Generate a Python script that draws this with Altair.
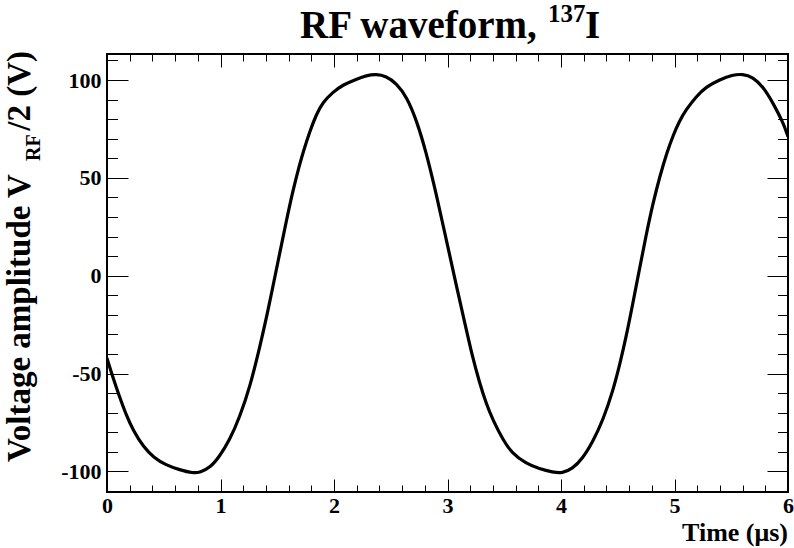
import altair as alt
import pandas as pd

# ---- data ----
time_us = [0.00, 0.05, 0.11, 0.17, 0.23, 0.32, 0.41, 0.52, 0.64, 0.76, 0.82, 0.91, 0.99,
           1.08, 1.17, 1.26, 1.35, 1.41, 1.46, 1.52, 1.58, 1.64, 1.70, 1.73, 1.785, 1.845,
           1.90, 1.99, 2.08, 2.20, 2.285, 2.37, 2.46, 2.55, 2.64, 2.73, 2.81, 2.90, 2.99,
           3.08, 3.16, 3.22, 3.28, 3.34, 3.40, 3.49, 3.57, 3.69, 3.81, 3.93, 4.01, 4.10,
           4.19, 4.28, 4.37, 4.46, 4.52, 4.574, 4.63, 4.69, 4.75, 4.81, 4.87, 4.93, 4.99,
           5.04, 5.10, 5.19, 5.28, 5.40, 5.51, 5.60, 5.69, 5.78, 5.87, 5.96, 6.00]
voltage = [-42.2, -51.6, -61.8, -71.2, -78.9, -87.4, -92.8, -96.8, -99.2, -100.9, -100.5, -98.0, -92.5,
           -84.0, -72.1, -56.7, -35.5, -20.0, -6.0, 11.0, 28.0, 44.0, 57.5, 63.5, 73.5, 82.5,
           88.5, 93.8, 97.6, 100.5, 102.3, 103.0, 102.0, 98.3, 91.5, 79.0, 63.5, 42.1, 18.2,
           -5.6, -26.1, -41.4, -54.2, -65.2, -73.8, -84.0, -90.8, -95.9, -98.7, -100.4, -100.9, -98.7,
           -93.4, -84.8, -73.8, -58.4, -44.8, -31.2, -15.0, 3.0, 20.8, 37.0, 50.6, 62.5, 72.0,
           78.7, 84.7, 91.5, 96.6, 100.2, 102.6, 103.1, 101.6, 96.6, 88.1, 77.9, 71.0]

x_major = [0, 1, 2, 3, 4, 5, 6]
x_minor = [0.2, 0.4, 0.6, 0.8, 1.2, 1.4, 1.6, 1.8, 2.2, 2.4, 2.6, 2.8, 3.2, 3.4, 3.6, 3.8,
           4.2, 4.4, 4.6, 4.8, 5.2, 5.4, 5.6, 5.8]
y_major = [-100, -50, 0, 50, 100]
y_minor = [-110, -90, -80, -70, -60, -40, -30, -20, -10, 10, 20, 30, 40, 60, 70, 80, 90, 110]

title_main = ["RF waveform,"]
title_sup = ["137"]
title_end = ["I"]
x_title = ["Time (\u03bcs)"]
y_title_main = ["Voltage amplitude V"]
y_title_sub = ["RF"]
y_title_end = ["/2 (V)"]

df = pd.DataFrame({"t": time_us, "v": voltage})

W, H = 681, 438
FONT = "Liberation Serif"
xs = alt.Scale(domain=[0, 6], nice=False, zero=False)
ys = alt.Scale(domain=[-110.5, 113.3], nice=False, zero=False)


def ax(orient, values, size, labels):
    kw = dict(orient=orient, values=values, tickSize=size, offset=-size, domain=False,
              grid=False, title=None, tickColor="black", tickWidth=1, labels=labels)
    if labels:
        kw.update(labelFont=FONT, labelFontWeight="bold", labelFontSize=22,
                  labelColor="black", labelFlush=False, labelOverlap=False,
                  labelExpr="toString(datum.value)",
                  labelPadding=3 if orient in ("bottom", "top") else 6)
    return alt.Axis(**kw)


def layer(xa, ya, visible=False):
    base = alt.Chart(df)
    if visible:
        m = base.mark_line(color="black", strokeWidth=3.2, interpolate="basis", clip=True)
    else:
        m = base.mark_line(opacity=0)
    return m.encode(x=alt.X("t:Q", scale=xs, axis=xa),
                    y=alt.Y("v:Q", scale=ys, axis=ya))


l1 = layer(ax("bottom", x_major, 13, True), ax("left", y_major, 21, True), visible=True)
l2 = layer(ax("bottom", x_minor, 7, False), ax("left", y_minor, 10.5, False))
l3 = layer(ax("top", x_major, 13, False), ax("right", y_major, 21, False))
l4 = layer(ax("top", x_minor, 7, False), ax("right", y_minor, 10.5, False))


def txt(values, x, y, size, align="left", angle=0):
    d = pd.DataFrame({"s": values})
    kw = dict(font=FONT, fontWeight="bold", fontSize=size, align=align,
              baseline="alphabetic", color="black")
    if angle:
        kw["angle"] = angle
    return alt.Chart(d).mark_text(**kw).encode(text="s:N", x=alt.value(x), y=alt.value(y))


texts = [
    txt(title_main, 193, -16, 39),
    txt(title_sup, 441, -32, 25),
    txt(title_end, 478, -16, 39),
    txt(x_title, 681, 487, 26, align="right"),
    txt(y_title_main, -77, 408, 33, angle=270),
    txt(y_title_sub, -67, 107, 20, angle=270),
    txt(y_title_end, -77, -3, 33, align="right", angle=270),
]

chart = alt.layer(l1, l2, l3, l4, *texts).resolve_axis(
    x="independent", y="independent"
).properties(
    width=W, height=H,
    autosize=alt.AutoSizeParams(type="none"),
    padding={"left": 107, "top": 54, "right": 6, "bottom": 56},
    background="white",
).configure_view(stroke="black", strokeWidth=2)

chart.save("out.html", embed_options={"renderer": "svg", "actions": False})
